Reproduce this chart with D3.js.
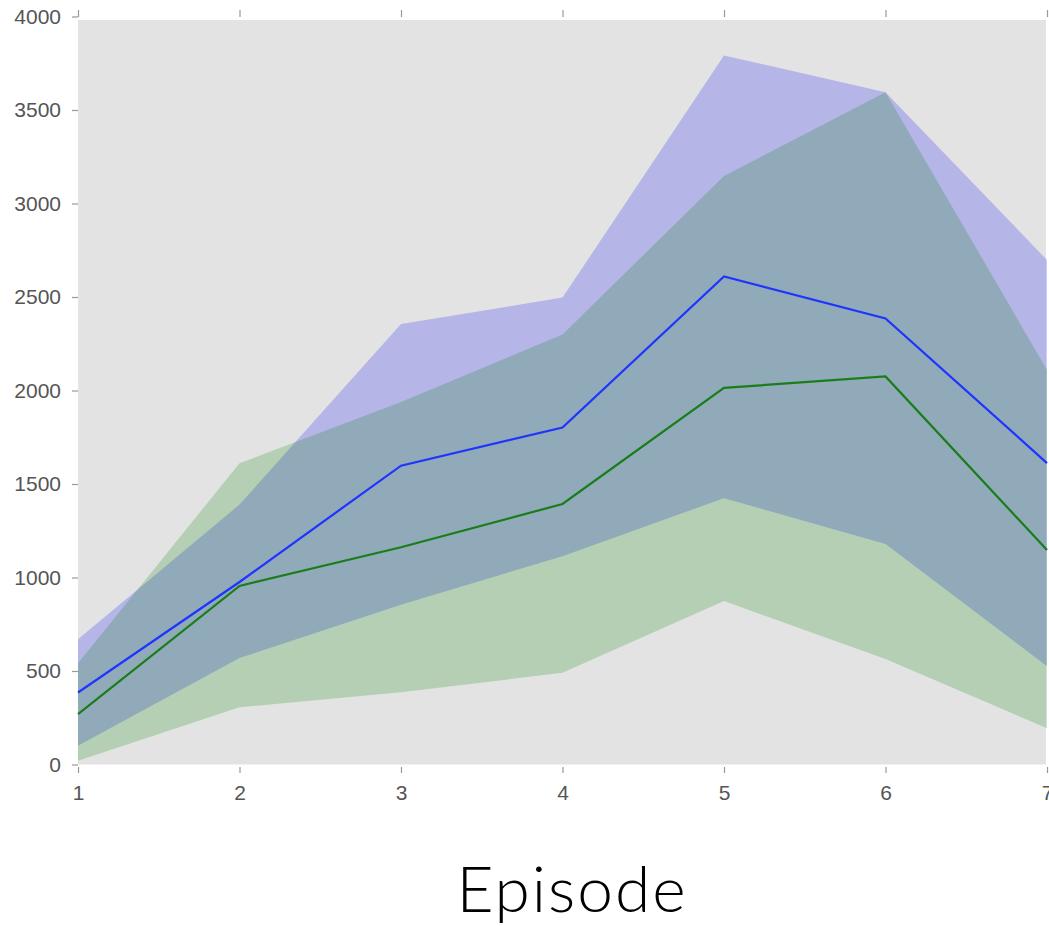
<!DOCTYPE html>
<html>
<head>
<meta charset="utf-8">
<script src="https://cdn.jsdelivr.net/npm/d3@7"></script>
<style>
  body { margin: 0; background: #fff; }
  svg { display: block; }
</style>
</head>
<body>
<svg id="chart" width="1049" height="926"></svg>
<script>
// episodes and tick labels
const episodes = [1, 2, 3, 4, 5, 6, 7];
const yTicks = [0, 500, 1000, 1500, 2000, 2500, 3000, 3500, 4000];

// blue run: mean and band
const blueMean  = [385, 976, 1598, 1802, 2610, 2385, 1612];
const blueUpper = [670, 1390, 2355, 2497, 3792, 3595, 2698];
const blueLower = [100, 569, 854, 1114, 1424, 1179, 526];

// green run: mean and band
const greenMean  = [269, 955, 1162, 1393, 2014, 2075, 1147];
const greenUpper = [542, 1611, 1938, 2300, 3147, 3595, 2110];
const greenLower = [20, 306, 387, 490, 874, 564, 194];

const svg = d3.select("#chart");

const x = d3.scaleLinear().domain([1, 7]).range([78, 1047]);
const y = d3.scaleLinear().domain([0, 4000]).range([764.5, 16.5]);

// plot background
svg.append("rect")
  .attr("x", x(1))
  .attr("y", 20)
  .attr("width", 968)
  .attr("height", y(0) - 20)
  .attr("fill", "#e3e3e3");

function band(lo, hi) {
  return d3.area()
    .x((d, i) => x(episodes[i]))
    .y0((d, i) => y(lo[i]))
    .y1((d, i) => y(hi[i]))(episodes);
}
function line(vals) {
  return d3.line()
    .x((d, i) => x(episodes[i]))
    .y((d, i) => y(vals[i]))(episodes);
}

var plot = svg.append("g");

// blue band first, green on top gives the teal overlap
plot.append("path")
  .attr("d", band(blueLower, blueUpper))
  .attr("fill", "rgb(0,0,255)")
  .attr("fill-opacity", 0.2);

plot.append("path")
  .attr("d", band(greenLower, greenUpper))
  .attr("fill", "rgb(0,128,0)")
  .attr("fill-opacity", 0.2);

plot.append("path")
  .attr("d", line(blueMean))
  .attr("fill", "none")
  .attr("stroke", "#1f35ff")
  .attr("stroke-width", 2.2);

plot.append("path")
  .attr("d", line(greenMean))
  .attr("fill", "none")
  .attr("stroke", "#1a7d1a")
  .attr("stroke-width", 2.2);

// axes
const tickStyle = g => {
  g.select(".domain").remove();
  g.selectAll(".tick line").attr("stroke", "#999").attr("stroke-width", 1.2);
  g.selectAll(".tick text")
    .attr("fill", "#555")
    .attr("font-family", "'Liberation Sans', Arial, sans-serif")
    .attr("font-size", 21);
};

svg.append("g")
  .attr("transform", "translate(78,0)")
  .call(d3.axisLeft(y).tickValues(yTicks).tickSize(6).tickPadding(11).tickFormat(d3.format("d")))
  .call(tickStyle);

svg.append("g")
  .attr("transform", "translate(0,767)")
  .call(d3.axisBottom(x).tickValues(episodes).tickSize(6).tickPadding(12).tickFormat(d3.format("d")))
  .call(tickStyle);

svg.append("g")
  .attr("transform", "translate(0,17)")
  .call(d3.axisTop(x).tickValues(episodes).tickSize(7).tickFormat(""))
  .call(tickStyle);

// axis title
svg.append("text")
  .attr("x", 572)
  .attr("y", 912)
  .attr("text-anchor", "middle")
  .attr("font-family", "Lato, 'DejaVu Sans', sans-serif")
  .attr("font-weight", 300)
  .attr("font-size", 64)
  .attr("letter-spacing", 2)
  .attr("fill", "#000")
  .text("Episode");
</script>
</body>
</html>
